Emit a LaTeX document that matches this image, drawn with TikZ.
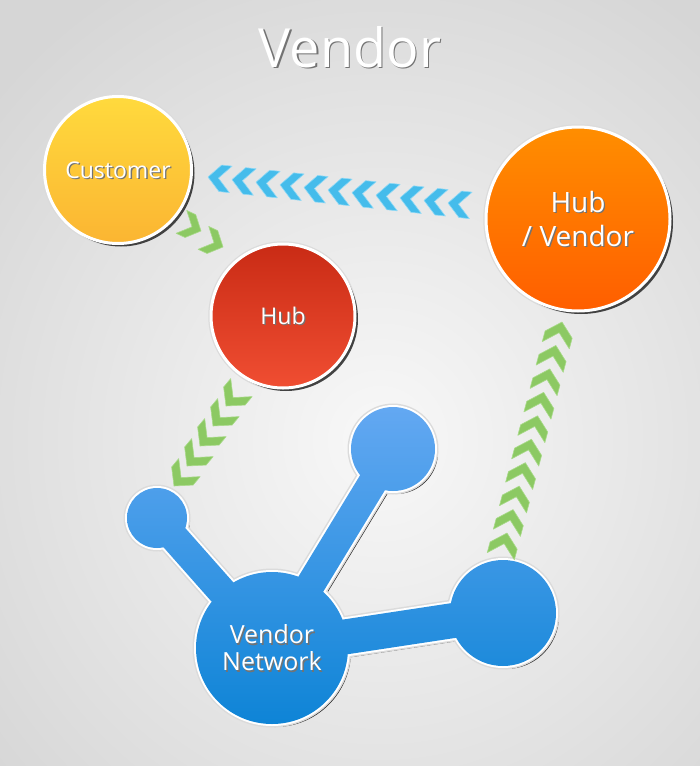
\documentclass[tikz,border=0pt]{standalone}
\usepackage{fontspec}
\setmainfont{Open Sans}
\usetikzlibrary{shadows,calc}

\definecolor{bgin}{HTML}{F8F8F8}
\definecolor{bgout}{HTML}{D6D6D6}
\definecolor{custtop}{HTML}{FFDA3D}
\definecolor{custbot}{HTML}{FBB532}
\definecolor{hubtop}{HTML}{C92B15}
\definecolor{hubbot}{HTML}{F04E32}
\definecolor{hvtop}{HTML}{FF8E00}
\definecolor{hvbot}{HTML}{FF5E00}
\definecolor{nettop}{HTML}{63A8F2}
\definecolor{netbot}{HTML}{0E84D6}
\definecolor{chevblue}{HTML}{45BCEB}
\definecolor{chevblueedge}{HTML}{8FD9F6}
\definecolor{chevgreen}{HTML}{8CC963}
\definecolor{chevgreenedge}{HTML}{A9DA8A}

\tikzset{
  ball/.style={circle, inner sep=0pt, draw=white, line width=3pt,
    preaction={draw=black!14, line width=5.5pt},
    drop shadow={shadow xshift=3pt, shadow yshift=-3pt, opacity=0.85, fill=black!85}},
  lbl/.style={text=white, align=center, inner sep=0pt},
  lblsh/.style={text=black!55, align=center, inner sep=0pt},
  chev/.pic={\path[pic actions] (0,0) -- (-13,14) -- (-24,14) -- (-11,0) -- (-24,-14) -- (-13,-14) -- cycle;},
  bluechev/.style={fill=chevblue, draw=chevblueedge, line width=0.6pt, line join=round},
  greenchev/.style={fill=chevgreen, draw=chevgreenedge, line width=0.6pt, line join=round},
}

% label with a small grey shadow: position, name, font, text
\newcommand{\balltext}[4]{%
  \node[lblsh, font=#3] (#2-sh) at ($(#1)+(1.3,1.3)$) {#4};
  \node[lbl, font=#3] (#2) at (#1) {#4};}

% one bar of the network, as a polygon between two centres
\newcommand{\netbar}[3]{($(#1)!#3!90:(#2)$) -- ($(#2)!#3!-90:(#1)$) -- ($(#2)!#3!90:(#1)$) -- ($(#1)!#3!-90:(#2)$) -- cycle}

\begin{document}
\begin{tikzpicture}[x=1pt, y=-1pt]
\useasboundingbox (0,0) rectangle (700,766);

% Background
\shade[inner color=bgin, outer color=bgout] (-130,-90) rectangle (890,970);

% Title
\balltext{350,47}{title}{\fontsize{54}{60}\selectfont}{Vendor}

% Circles
\node[ball, minimum size=147pt, top color=custtop, bottom color=custbot] (cust) at (118,170) {};
\node[ball, minimum size=144pt, top color=hubtop, bottom color=hubbot] (hub) at (283,316) {};
\node[ball, minimum size=184pt, top color=hvtop, bottom color=hvbot] (hubv) at (578,219) {};

\balltext{cust}{custlbl}{\fontsize{23}{27}\selectfont}{Customer}
\balltext{hub}{hublbl}{\fontsize{23}{27}\selectfont}{Hub}
\balltext{hubv}{hubvlbl}{\fontsize{28}{34}\selectfont}{Hub\\/ Vendor}

% Vendor network
\coordinate (nbig) at (272,648);
\coordinate (ntop) at (393,449);
\coordinate (nleft) at (157,518);
\coordinate (nright) at (503,613);

% shadow of the network
\begin{scope}[transform canvas={shift={(3pt,-3pt)}}, black!85]
  \fill (nbig) circle (76) (ntop) circle (42) (nleft) circle (30) (nright) circle (53);
  \draw[line width=29pt] (nbig) -- (ntop) (nbig) -- (nleft);
  \draw[line width=35pt] (nbig) -- (nright);
\end{scope}
% rim of the network
\fill[black!14] (nbig) circle (79.5) (ntop) circle (45.5) (nleft) circle (33.5) (nright) circle (56.5);
\draw[black!14, line width=36pt] (nbig) -- (ntop) (nbig) -- (nleft);
\draw[black!14, line width=42pt] (nbig) -- (nright);
\fill[white] (nbig) circle (78) (ntop) circle (44) (nleft) circle (32) (nright) circle (55);
\draw[white, line width=33pt] (nbig) -- (ntop) (nbig) -- (nleft);
\draw[white, line width=39pt] (nbig) -- (nright);
% body of the network
\shade[top color=nettop, bottom color=netbot]
  (nbig) circle (76) (ntop) circle (42) (nleft) circle (30) (nright) circle (53)
  \netbar{nbig}{ntop}{14.5pt} \netbar{nbig}{nleft}{14.5pt} \netbar{nbig}{nright}{17.5pt};

\balltext{nbig}{netlbl}{\fontsize{25}{27}\selectfont}{Vendor\\Network}

% Chevrons: hub / vendor to customer
\coordinate (blueA) at (448,203);
\coordinate (blueB) at (208,177);
\foreach \i in {0,...,10}
  \pic[bluechev, rotate=174, scale=0.95] at ($(blueA)!\i/10!(blueB)$) {chev};

% Chevrons: customer to hub
\coordinate (grnA1) at (201,231);
\coordinate (grnA2) at (223,247);
\foreach \i in {0,1}
  \pic[greenchev, rotate=-25, scale=0.9] at ($(grnA1)!\i!(grnA2)$) {chev};

% Chevrons: hub to vendor network
\coordinate (grnB1) at (226,406);
\coordinate (grnB2) at (174,486);
\foreach \i in {0,...,4}
  \pic[greenchev, rotate=-130] at ($(grnB1)!\i/4!(grnB2)$) {chev};

% Chevrons: vendor network to hub / vendor
\coordinate (grnC1) at (507,533);
\coordinate (grnC2) at (562,322);
\foreach \i in {0,...,9}
  \pic[greenchev, rotate=75] at ($(grnC1)!\i/9!(grnC2)$) {chev};

\end{tikzpicture}
\end{document}
